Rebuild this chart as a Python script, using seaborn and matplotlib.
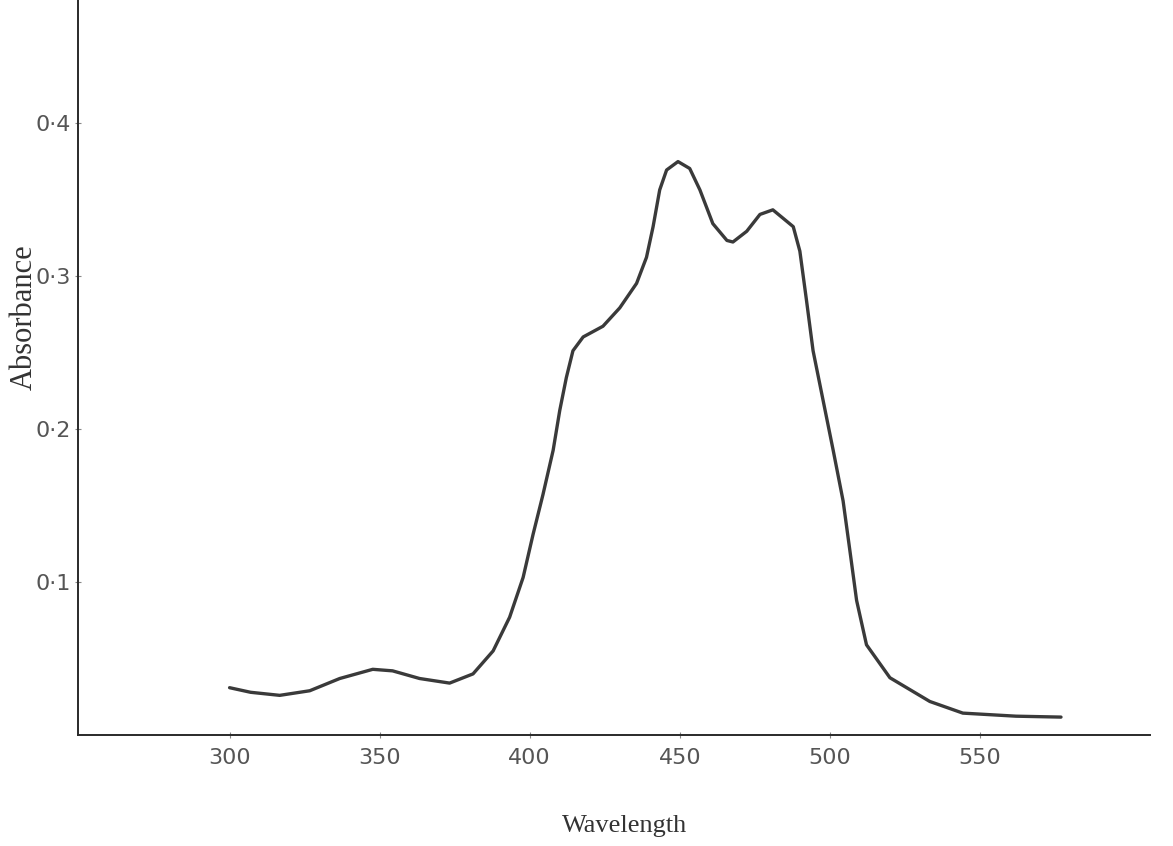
import matplotlib
matplotlib.use("Agg")
import matplotlib.pyplot as plt
import pandas as pd
import seaborn as sns

# absorbance spectrum
wavelength = [300, 307, 316.7, 326.7, 336.7, 347.7, 354.3, 363.3, 373.3, 381.1,
              387.8, 393.3, 397.8, 401.1, 404.4, 407.8, 410, 412.2, 414.4, 417.8,
              424.4, 430, 435.6, 438.9, 441.1, 443.3, 445.6, 449.4, 453.3, 456.7,
              461, 465.7, 467.7, 472.3, 476.7, 481, 487.8, 490, 492.2, 494.4,
              497.8, 501.1, 504.4, 506.7, 508.9, 512.2, 520, 533.3, 544.3, 562, 577]
absorbance = [0.031, 0.028, 0.026, 0.029, 0.037, 0.043, 0.042, 0.037, 0.034, 0.040,
              0.055, 0.077, 0.103, 0.131, 0.157, 0.186, 0.212, 0.2335, 0.251, 0.260,
              0.267, 0.279, 0.295, 0.312, 0.332, 0.356, 0.369, 0.3745, 0.370, 0.356,
              0.334, 0.323, 0.322, 0.329, 0.340, 0.343, 0.332, 0.316, 0.284, 0.251,
              0.218, 0.186, 0.153, 0.120, 0.088, 0.059, 0.0375, 0.022, 0.0144, 0.0124, 0.0118]

x_ticks = [300, 350, 400, 450, 500, 550]
y_ticks = [0.1, 0.2, 0.3, 0.4]
y_tick_labels = ["0·1", "0·2", "0·3", "0·4"]

df = pd.DataFrame({"Wavelength": wavelength, "Absorbance": absorbance})

sns.set_style("ticks")
fig = plt.figure(figsize=(11.73, 8.46), dpi=100)
ax = fig.add_axes([0.0665, 0.131, 0.9135, 0.869])

sns.lineplot(data=df, x="Wavelength", y="Absorbance", ax=ax, color="#3a3a3a",
             linewidth=2.4, sort=False, solid_joinstyle="round", solid_capstyle="round")

ax.set_xlim(249.5, 606.5)
ax.set_ylim(0, 0.48)
sns.despine(ax=ax)
for s in ["left", "bottom"]:
    ax.spines[s].set_linewidth(1.4)
    ax.spines[s].set_color("#2a2a2a")

ax.set_xticks(x_ticks)
ax.set_xticklabels([str(t) for t in x_ticks], fontsize=16, color="#555555")
ax.set_yticks(y_ticks)
ax.set_yticklabels(y_tick_labels, fontsize=16, color="#555555")
ax.tick_params(axis="both", direction="inout", length=4, width=0.8, color="#888888")
ax.tick_params(axis="x", pad=7)
ax.tick_params(axis="y", pad=3)

ax.set_xlabel("Wavelength", family="Liberation Serif", fontsize=19, color="#333333")
ax.set_ylabel("Absorbance", family="Liberation Serif", fontsize=22, color="#333333")
ax.xaxis.set_label_coords(0.51, -0.108)
ax.yaxis.set_label_coords(-0.037, 0.568)

fig.savefig("out.png", dpi=100, facecolor="white")
